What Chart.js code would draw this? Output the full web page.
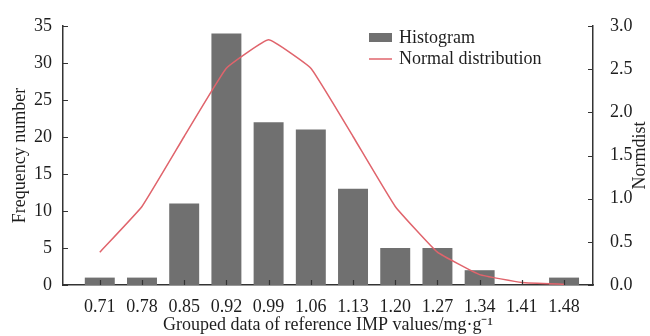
<!DOCTYPE html>
<html>
<head>
<meta charset="utf-8">
<script src="https://cdn.jsdelivr.net/npm/chart.js@4.4.1/dist/chart.umd.min.js"></script>
<style>
  body { margin: 0; background: #fff; }
  #wrap { width: 650px; height: 336px; }
</style>
</head>
<body>
<div id="wrap"><canvas id="histChart"></canvas></div>
<script>
const groups = [0.71, 0.78, 0.85, 0.92, 0.99, 1.06, 1.13, 1.20, 1.27, 1.34, 1.41, 1.48];
const frequency = [1, 1, 11, 34, 22, 21, 13, 5, 5, 2, 0, 1];
const normdist = [0.38, 0.91, 1.72, 2.51, 2.84, 2.51, 1.72, 0.91, 0.38, 0.12, 0.03, 0.01];
const leftTicks = [0, 5, 10, 15, 20, 25, 30, 35];
const rightTicks = [0, 0.5, 1.0, 1.5, 2.0, 2.5, 3.0];

const FONT = "'Liberation Serif', 'Times New Roman', serif";
const SIZE = 18;
const TEXT = "#1e1e1e";
const AXIS = "#333333";
const BAR = "#707070";
const LINE = "#e0646c";

// inward tick marks, right axis title and the legend inside the plot
const decorations = {
    id: "decorations",
    afterDraw(chart) {
        const ctx = chart.ctx;
        const area = chart.chartArea;
        const { x, y, y1 } = chart.scales;
        const len = 5;

        ctx.save();
        ctx.strokeStyle = AXIS;
        ctx.lineWidth = 1.2;
        ctx.beginPath();
        x.ticks.forEach((t) => {
            const px = Math.round(x.getPixelForValue(t.value)) + 0.5;
            ctx.moveTo(px, area.bottom);
            ctx.lineTo(px, area.bottom - len);
        });
        y.ticks.forEach((t) => {
            const py = Math.round(y.getPixelForValue(t.value)) + 0.5;
            ctx.moveTo(area.left, py);
            ctx.lineTo(area.left + len, py);
        });
        y1.ticks.forEach((t) => {
            const py = Math.round(y1.getPixelForValue(t.value)) + 0.5;
            ctx.moveTo(area.right, py);
            ctx.lineTo(area.right - len, py);
        });
        ctx.stroke();

        // "Normdist" reads upward like the left title
        ctx.fillStyle = TEXT;
        ctx.font = SIZE + "px " + FONT;
        ctx.textAlign = "center";
        ctx.textBaseline = "middle";
        ctx.translate(640, (area.top + area.bottom) / 2);
        ctx.rotate(-Math.PI / 2);
        ctx.fillText("Normdist", 0, 0);
        ctx.restore();

        // legend
        ctx.save();
        ctx.font = SIZE + "px " + FONT;
        ctx.textBaseline = "middle";
        ctx.textAlign = "left";
        ctx.fillStyle = BAR;
        ctx.fillRect(369, 33, 23, 9);
        ctx.strokeStyle = LINE;
        ctx.lineWidth = 1.5;
        ctx.beginPath();
        ctx.moveTo(369, 59);
        ctx.lineTo(392, 59);
        ctx.stroke();
        ctx.fillStyle = TEXT;
        ctx.fillText(chart.data.datasets[0].label, 399, 38);
        ctx.fillText(chart.data.datasets[1].label, 399, 59);
        ctx.restore();
    },
};

const ctx = document.getElementById("histChart").getContext("2d");
const histChart = new Chart(ctx, {
    data: {
        datasets: [
            {
                type: "bar",
                label: "Histogram",
                data: groups.map((g, i) => ({ x: g, y: frequency[i] })),
                backgroundColor: BAR,
                barPercentage: 0.71,
                categoryPercentage: 1,
                yAxisID: "y",
                order: 2,
            },
            {
                type: "line",
                label: "Normal distribution",
                data: groups.map((g, i) => ({ x: g, y: normdist[i] })),
                borderColor: LINE,
                borderWidth: 1.5,
                pointRadius: 0,
                tension: 0.1,
                yAxisID: "y1",
                order: 1,
            },
        ],
    },
    options: {
        responsive: true,
        maintainAspectRatio: false,
        animation: false,
        layout: { padding: { top: 26, left: 0, right: 0, bottom: 0 } },
        plugins: {
            legend: { display: false },
            tooltip: { enabled: false },
        },
        scales: {
            x: {
                type: "linear",
                offset: false,
                min: 0.649,
                max: 1.528,
                afterBuildTicks: (s) => { s.ticks = groups.map((v) => ({ value: v })); },
                afterFit: (s) => { s.height = 51; },
                grid: { display: false },
                border: { display: true, color: AXIS, width: 1.5 },
                ticks: {
                    color: TEXT,
                    font: { family: FONT, size: SIZE },
                    padding: 3,
                    maxRotation: 0,
                    autoSkip: false,
                    callback: (v) => Number(v).toFixed(2),
                },
                title: {
                    display: true,
                    text: "Grouped data of reference IMP values/mg·g⁻¹",
                    color: TEXT,
                    font: { family: FONT, size: SIZE },
                    padding: { top: 0, bottom: 0 },
                },
            },
            y: {
                position: "left",
                min: 0,
                max: 35,
                afterBuildTicks: (s) => { s.ticks = leftTicks.map((v) => ({ value: v })); },
                afterFit: (s) => { s.width = 63; },
                grid: { display: false },
                border: { display: true, color: AXIS, width: 1.5 },
                ticks: {
                    color: TEXT,
                    font: { family: FONT, size: SIZE },
                    padding: 3,
                },
                title: {
                    display: true,
                    text: "Frequency number",
                    color: TEXT,
                    font: { family: FONT, size: SIZE },
                    padding: { top: 9, bottom: 0 },
                },
            },
            y1: {
                position: "right",
                min: 0,
                max: 3,
                afterBuildTicks: (s) => { s.ticks = rightTicks.map((v) => ({ value: v })); },
                afterFit: (s) => { s.width = 57; },
                grid: { display: false },
                border: { display: true, color: AXIS, width: 1.5 },
                ticks: {
                    color: TEXT,
                    font: { family: FONT, size: SIZE },
                    padding: 9,
                    callback: (v) => Number(v).toFixed(1),
                },
            },
        },
    },
    plugins: [decorations],
});
</script>
</body>
</html>
